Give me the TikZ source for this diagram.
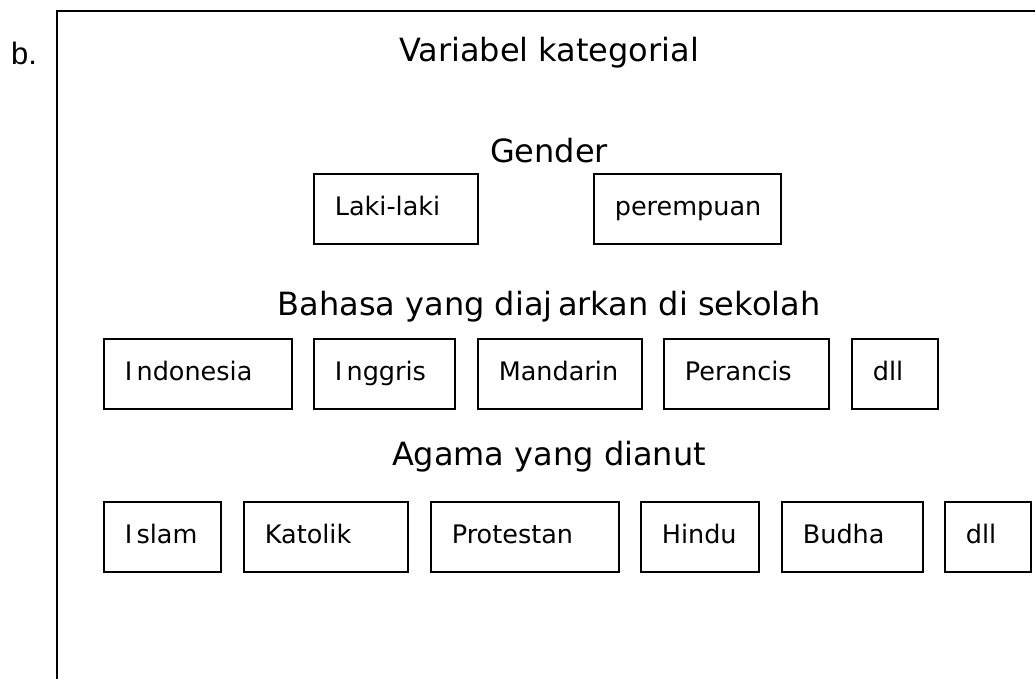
\documentclass[tikz,border=0pt]{standalone}
\usepackage{fontspec}
\setmainfont{DejaVu Sans}
\newfontfamily\arialfont{Liberation Sans}
\tikzset{
  frameline/.style={line width=2.2pt, line cap=rect},
  title/.style={anchor=base, inner sep=0pt, font=\fontsize{32}{38}\selectfont},
  catbox/.style={draw, line width=1.7pt, anchor=north west, align=left,
    inner xsep=21pt, inner ysep=0pt, minimum height=70pt,
    text height=18pt, text depth=4pt, font=\fontsize{25.5}{30}\selectfont},
}
\begin{document}
\begin{tikzpicture}[x=1pt,y=-1pt]
\useasboundingbox (0,0) rectangle (1035,679);
% label
\node[anchor=base west, inner sep=0pt, font=\arialfont\fontsize{31}{36}\selectfont] (lbl) at (11,65) {b.};
% outer frame (only top and left edges visible)
\coordinate (fbl) at (57,682);
\coordinate (ftl) at (57,11);
\coordinate (ftr) at (1040,11);
\draw[frameline] (fbl) -- (ftl) -- (ftr);
% titles
\node[title] (t0) at (549,62) {Variabel kategorial};
\node[title] (t1) at (549,163) {Gender};
\node[title] (t2) at (549,315) {Bahasa yang diaj\,arkan di sekolah};
\node[title] (t3) at (549,465) {Agama yang dianut};
% row 1
\node[catbox, text width=122pt] (laki) at (313,173) {Laki-laki};
\node[catbox, text width=145pt] (perempuan) at (593,173) {perempuan};
% row 2
\node[catbox, text width=146pt] (indonesia) at (103,338) {I\,ndonesia};
\node[catbox, text width=99pt] (inggris) at (313,338) {I\,nggris};
\node[catbox, text width=122pt] (mandarin) at (477,338) {Mandarin};
\node[catbox, text width=123pt] (perancis) at (663,338) {Perancis};
\node[catbox, text width=44pt] (dll1) at (851,338) {dll};
% row 3
\node[catbox, text width=75pt] (islam) at (103,501) {I\,slam};
\node[catbox, text width=122pt] (katolik) at (243,501) {Katolik};
\node[catbox, text width=146pt] (protestan) at (430,501) {Protestan};
\node[catbox, text width=76pt] (hindu) at (640,501) {Hindu};
\node[catbox, text width=99pt] (budha) at (781,501) {Budha};
\node[catbox, text width=44pt] (dll2) at (944,501) {dll};
\end{tikzpicture}
\end{document}
